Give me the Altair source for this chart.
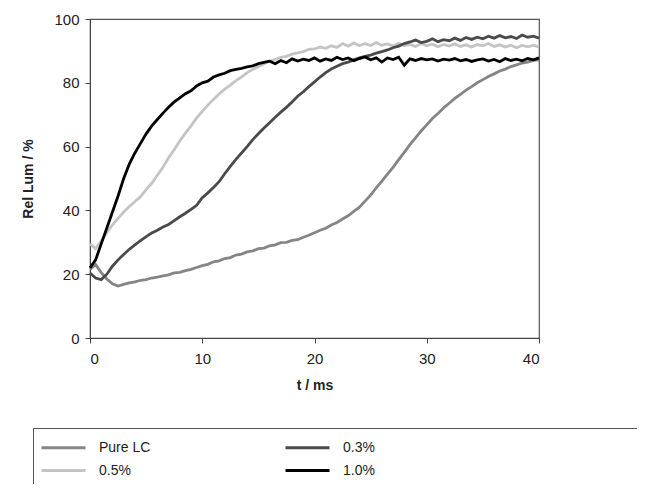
import altair as alt
import pandas as pd

t_ms = [i * 0.5 for i in range(81)]

pure_lc = [21.5, 23.0, 20.5, 18.5, 17.0, 16.3, 16.8, 17.3, 17.6, 18.1,
           18.3, 18.8, 19.1, 19.5, 19.8, 20.4, 20.6, 21.1, 21.5, 22.1,
           22.7, 23.1, 23.9, 24.2, 24.9, 25.2, 26.0, 26.3, 27.0, 27.3,
           28.0, 28.2, 28.9, 29.2, 29.9, 30.0, 30.6, 30.8, 31.6, 32.2,
           33.0, 33.8, 34.4, 35.4, 36.2, 37.3, 38.3, 39.7, 41.0, 42.9,
           44.8, 47.1, 49.2, 51.4, 53.5, 55.9, 58.2, 60.6, 62.7, 64.9,
           66.8, 68.8, 70.4, 72.1, 73.6, 75.1, 76.4, 77.7, 78.8, 80.0,
           81.0, 82.0, 82.8, 83.7, 84.3, 85.1, 85.6, 86.2, 86.5, 87.0,
           87.2]

pct05 = [29.5, 28.0, 30.5, 33.0, 35.5, 37.5, 39.5, 41.2, 42.8, 44.3,
         46.5, 48.5, 51.0, 53.5, 56.5, 59.0, 61.8, 64.2, 66.5, 69.0,
         71.0, 73.0, 74.8, 76.5, 78.0, 79.3, 80.7, 81.8, 83.2, 84.2,
         85.0, 86.0, 86.8, 87.3, 88.0, 88.3, 89.0, 89.4, 89.8, 90.5,
         90.6, 91.2, 90.8, 91.6, 91.1, 92.3, 91.5, 92.5, 91.6, 92.3,
         91.7, 92.6, 91.8, 92.2, 91.5, 92.4, 91.7, 92.0, 91.4, 92.3,
         91.6, 92.1, 91.3, 92.0, 91.5, 92.2, 91.4, 91.9, 91.2, 92.0,
         91.6, 92.3, 91.4, 91.9, 91.2, 91.8, 91.0, 91.7, 91.3, 91.8,
         91.2]

pct03 = [20.4, 18.8, 18.3, 20.0, 22.5, 24.5, 26.2, 27.8, 29.2, 30.5,
         31.8, 32.9, 33.8, 34.8, 35.6, 36.8, 38.0, 39.1, 40.3, 41.6,
         44.0, 45.5, 47.2, 49.0, 51.5, 53.8, 56.0, 58.0, 60.0, 62.2,
         64.0, 65.8, 67.5, 69.2, 70.8, 72.3, 74.0, 75.8, 77.2, 78.8,
         80.3, 81.8, 83.2, 84.3, 85.2, 86.0, 86.5, 87.2, 87.8, 88.3,
         88.7, 89.3, 89.8, 90.3, 91.0, 91.5, 92.3, 92.8, 93.4, 92.6,
         93.0, 93.8, 92.9, 93.5, 93.2, 94.0, 93.3, 94.2, 93.6, 94.3,
         93.8, 94.6, 94.0, 94.8, 94.1, 94.5, 93.9, 95.0, 94.3, 94.6,
         94.0]

pct10 = [22.0, 24.5, 29.5, 34.5, 39.5, 44.5, 50.0, 54.5, 58.0, 61.0,
         64.0, 66.5, 68.5, 70.5, 72.3, 74.0, 75.3, 76.6, 77.5, 79.0,
         80.0, 80.5, 81.8, 82.5, 83.0, 83.8, 84.2, 84.5, 85.0, 85.3,
         86.0, 86.4, 86.8, 86.0, 87.0, 86.3, 87.5, 86.8, 87.4, 87.0,
         87.8, 86.8, 87.5, 87.0, 88.0, 87.3, 87.8, 86.9, 87.6, 88.1,
         87.2, 87.8, 86.5, 87.8, 87.3, 88.0, 85.5, 87.5, 87.0, 87.6,
         87.2, 87.5, 86.8, 87.4, 87.1, 87.6, 86.9, 87.3, 86.7, 87.2,
         87.5, 86.8, 87.3, 86.6, 87.6, 87.0, 87.4, 86.9, 87.6, 87.2,
         87.8]

series_names = ["Pure LC", "0.3%", "0.5%", "1.0%"]
series_colors = ["#858585", "#4a4a4a", "#c4c4c4", "#000000"]
draw_order = ["Pure LC", "0.5%", "0.3%", "1.0%"]
values = {"Pure LC": pure_lc, "0.3%": pct03, "0.5%": pct05, "1.0%": pct10}

rows = []
for name in series_names:
    for t, v in zip(t_ms, values[name]):
        rows.append({"t": t, "lum": v, "series": name})
df = pd.DataFrame(rows)

color = alt.Color(
    "series:N",
    scale=alt.Scale(domain=series_names, range=series_colors),
    legend=alt.Legend(
        title="\u00a0",
        titleOrient="right",
        titleColor="white",
        titleOpacity=0,
        titlePadding=420,
        titleFontSize=8,
        orient="none",
        legendX=-57,
        legendY=409,
        columns=2,
        columnPadding=128,
        direction="horizontal",
        symbolType="M-1,0H3",
        symbolSize=484,
        symbolStrokeWidth=3,
        labelFont="Liberation Sans",
        labelFontSize=14,
        labelColor="#222222",
        labelOffset=34,
        labelLimit=300,
        strokeColor="#555555",
        padding=7,
        rowPadding=3,
        fillColor="white",
    ),
)

layers = []
for name in draw_order:
    layers.append(
        alt.Chart(df)
        .transform_filter(alt.datum.series == name)
        .mark_line(strokeWidth=2.8)
        .encode(
            x=alt.X(
                "t:Q",
                scale=alt.Scale(domain=[0, 40], nice=False),
                axis=alt.Axis(
                    values=[0, 10, 20, 30, 40],
                    title="t / ms",
                    grid=False,
                    tickSize=5,
                    labelPadding=8,
                    titlePadding=12,
                ),
            ),
            y=alt.Y(
                "lum:Q",
                scale=alt.Scale(domain=[0, 100], nice=False),
                axis=alt.Axis(
                    values=[0, 20, 40, 60, 80, 100],
                    title="Rel Lum / %",
                    grid=False,
                    tickSize=5,
                    labelPadding=6,
                    titlePadding=18,
                ),
            ),
            color=color,
        )
    )

chart = (
    alt.layer(*layers)
    .properties(
        width=449,
        height=319,
        autosize=alt.AutoSizeParams(type="none"),
        padding={"left": 82, "top": 11, "right": 98, "bottom": 146},
    )
    .configure_view(stroke="#555555", strokeWidth=1.2)
    .configure_axis(
        domainColor="#444444",
        tickColor="#444444",
        labelFont="Liberation Sans",
        labelFontSize=15,
        labelColor="#222222",
        titleFont="Liberation Sans",
        titleFontSize=14,
        titleFontWeight="bold",
        titleColor="#222222",
    )
)

chart.save("out.html", embed_options={"renderer": "svg", "actions": False})
